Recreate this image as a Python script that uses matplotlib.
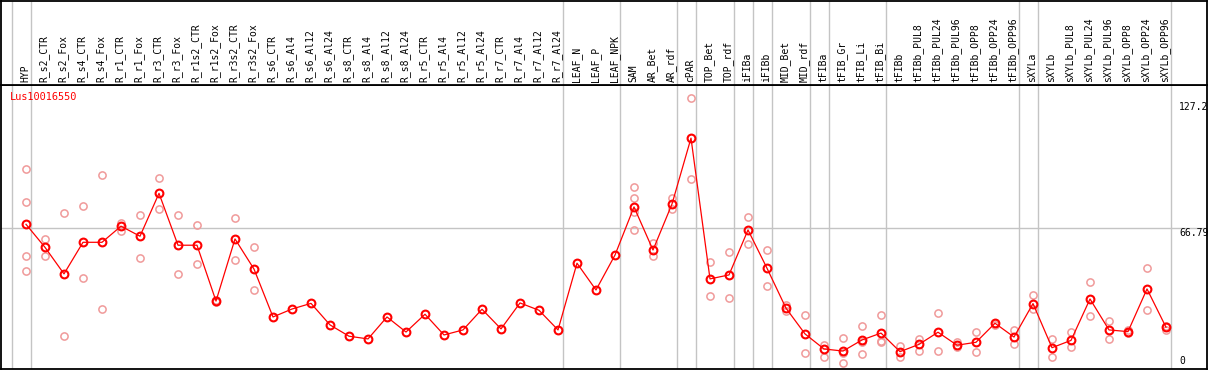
#!/usr/bin/env python3
# -*- coding: utf-8 -*-

import numpy as np
import matplotlib
matplotlib.use('Agg')
import matplotlib.pyplot as plt

# sample names (one column each)
samples = [
    'HYP', 'R_s2_CTR', 'R_s2_Fox', 'R_s4_CTR', 'R_s4_Fox', 'R_r1_CTR', 'R_r1_Fox',
    'R_r3_CTR', 'R_r3_Fox', 'R_r1s2_CTR', 'R_r1s2_Fox', 'R_r3s2_CTR', 'R_r3s2_Fox',
    'R_s6_CTR', 'R_s6_Al4', 'R_s6_Al12', 'R_s6_Al24', 'R_s8_CTR', 'R_s8_Al4',
    'R_s8_Al12', 'R_s8_Al24', 'R_r5_CTR', 'R_r5_Al4', 'R_r5_Al12', 'R_r5_Al24',
    'R_r7_CTR', 'R_r7_Al4', 'R_r7_Al12', 'R_r7_Al24', 'LEAF_N', 'LEAF_P', 'LEAF_NPK',
    'SAM', 'AR_Bet', 'AR_rdf', 'cPAR', 'TOP_Bet', 'TOP_rdf', 'iFIBa', 'iFIBb',
    'MID_Bet', 'MID_rdf', 'tFIBa', 'tFIB_Gr', 'tFIB_Li', 'tFIB_Bi', 'tFIBb',
    'tFIBb_PUL8', 'tFIBb_PUL24', 'tFIBb_PUL96', 'tFIBb_OPP8', 'tFIBb_OPP24',
    'tFIBb_OPP96', 'sXYLa', 'sXYLb', 'sXYLb_PUL8', 'sXYLb_PUL24', 'sXYLb_PUL96',
    'sXYLb_OPP8', 'sXYLb_OPP24', 'sXYLb_OPP96',
]

# mean expression per sample
means = [
    68.7, 57.7, 45.0, 60.1, 60.1, 67.8, 63.0, 83.5, 58.7, 58.7, 32.0, 61.7, 47.3,
    24.4, 28.2, 30.9, 20.6, 15.2, 13.9, 24.4, 17.2, 25.7, 15.8, 18.2, 28.1, 18.7,
    31.1, 27.6, 18.2, 50.1, 37.3, 54.0, 77.0, 56.4, 78.4, 109.9, 42.6, 44.5, 66.0,
    47.7, 28.6, 16.3, 9.1, 8.1, 13.4, 16.7, 7.8, 11.3, 17.1, 10.9, 12.3, 21.4,
    14.8, 30.8, 9.7, 13.2, 33.0, 18.2, 17.4, 37.8, 19.5,
]

# individual replicates (empty where only the mean is shown)
replicates = [
    [95.0, 79.2, 53.6, 46.2], [61.7, 53.6], [74.0, 15.2], [77.3, 43.0],
    [92.2, 28.1], [69.5, 65.5], [73.0, 52.6], [90.7, 75.9], [73.0, 45.0],
    [68.2, 49.6], [32.5, 31.6], [71.7, 51.6], [57.9, 37.2],
    [], [], [], [], [], [], [], [], [], [], [], [], [], [], [], [], [], [], [],
    [86.6, 81.3, 74.5, 65.9], [59.6, 53.6], [81.2, 75.9], [129.0, 90.2],
    [50.7, 34.3], [55.5, 33.3], [72.2, 59.2], [56.3, 39.1], [30.1, 27.3],
    [25.3, 7.0], [11.0, 5.3], [14.2, 7.0, 2.2], [19.9, 12.6, 6.8],
    [25.2, 12.8, 12.3], [10.7, 5.4], [14.0, 8.3], [26.5, 8.1], [12.3, 10.2],
    [17.1, 7.5], [21.7, 20.6], [18.0, 11.3], [34.9, 28.1], [13.9, 5.3],
    [17.2, 10.0], [41.1, 24.7], [22.6, 13.9], [18.2, 16.6], [47.8, 27.7],
    [20.2, 18.3],
]

# columns after which a group separator is drawn
group_ends = [-1, 0, 28, 31, 34, 35, 37, 38, 39, 41, 42, 45, 52, 53, 60]

gene = 'Lus10016550'
y_ticks = [127.2, 66.79, 0]
y_max = 135.3


def main():
    W, H = 1209, 370
    fig = plt.figure(figsize=(W / 100, H / 100), dpi=100)
    font = dict(family='DejaVu Sans Mono', size=7)

    x = np.arange(len(samples))
    xlim = ((1 - 26) / 19.0, (1207 - 26) / 19.0)

    ax = fig.add_axes([1 / W, 1 / H, 1206 / W, 284 / H])
    hd = fig.add_axes([1 / W, 285 / H, 1206 / W, 84.5 / H])

    for a in (ax, hd):
        a.set_xlim(*xlim)
        a.set_xticks([])
        a.set_yticks([])
        for s in a.spines.values():
            s.set_linewidth(1.3)
            s.set_color('black')
        for g in group_ends:
            a.axvline(g + 0.24, color='#c4c4c4', lw=1.0, zorder=0)

    ax.set_ylim((368 - 369) / 2.091, y_max)
    hd.set_ylim(0, 1)

    # header labels
    for i, name in enumerate(samples):
        hd.text(i - 0.05, 0.035, name, rotation=90, ha='center', va='bottom',
                color='black', **font)

    # horizontal reference line
    ax.axhline(y_ticks[1], color='#c4c4c4', lw=1.0, zorder=0)

    # replicates
    for i, reps in enumerate(replicates):
        if len(reps) > 1:
            ax.plot([x[i]] * len(reps), reps, linestyle='none', marker='o',
                    markersize=5.2, markerfacecolor='none',
                    markeredgecolor='#f09a9a', markeredgewidth=1.1, zorder=2)

    # mean line
    ax.plot(x, means, color='#ff0000', lw=0.9, marker='o', markersize=5.6,
            markerfacecolor='none', markeredgecolor='#ff0000',
            markeredgewidth=1.5, zorder=3)

    # gene name
    ax.text(9 / 1206, (369 - 97) / 284, gene, transform=ax.transAxes,
            color='#ff0000', ha='left', va='center', family='DejaVu Sans Mono',
            size=7.4)

    # value labels on the right
    tx = (1179 - 1) / 1206
    trans = ax.get_yaxis_transform()
    ax.text(tx, y_ticks[0], '127.2', transform=trans, ha='left', va='top',
            color='black', **font)
    ax.text(tx, y_ticks[1], '66.79', transform=trans, ha='left', va='top',
            color='black', **font)
    ax.annotate('0', xy=(tx, 0), xycoords=trans, xytext=(0, 1.5),
                textcoords='offset points', ha='left', va='bottom',
                color='black', **font)

    fig.savefig('out.png', dpi=100)


if __name__ == '__main__':
    main()
